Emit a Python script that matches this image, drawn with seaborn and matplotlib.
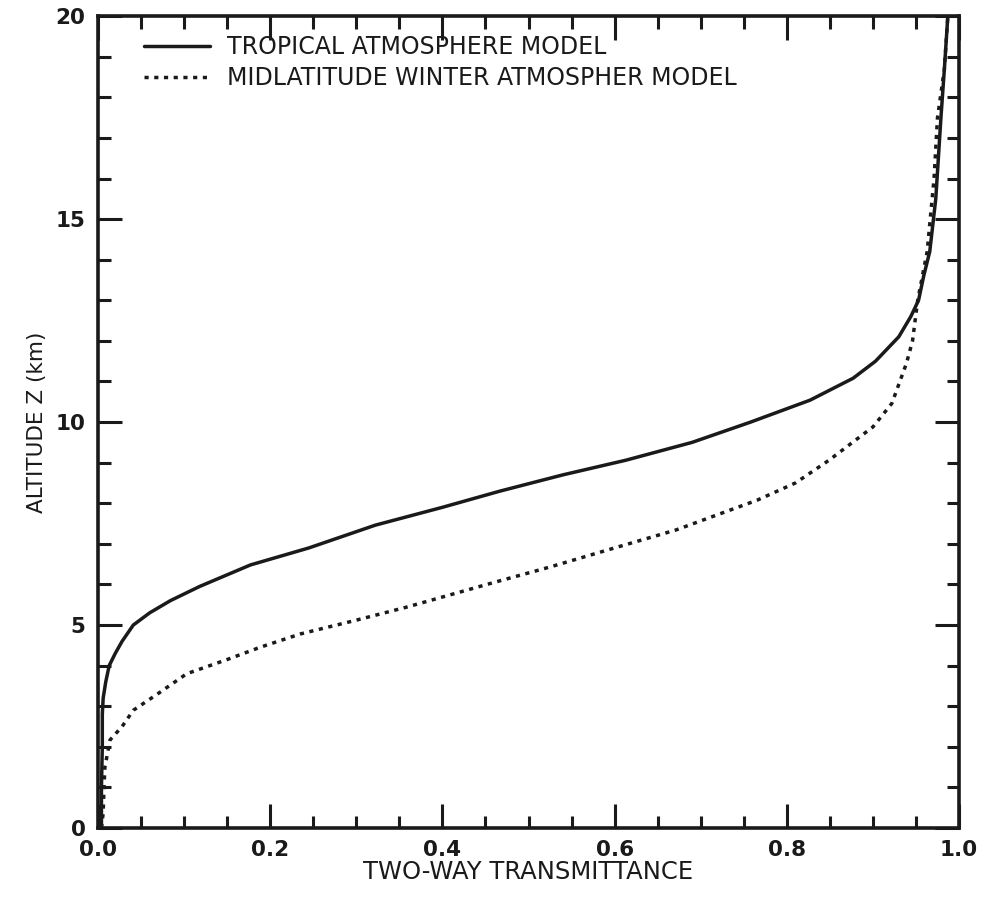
import numpy as np
import pandas as pd
import matplotlib
matplotlib.use("Agg")
import matplotlib.pyplot as plt
import seaborn as sns
from matplotlib.ticker import MultipleLocator, FormatStrFormatter

# Two-way transmittance profiles versus altitude (km)
tropical_altitude = [0.0, 1.0, 2.0, 2.8, 3.2, 3.6, 4.0, 4.3, 4.6, 5.0, 5.3, 5.6, 5.95,
                     6.48, 6.9, 7.46, 7.9, 8.3, 8.7, 9.06, 9.5, 10.0, 10.54, 11.08,
                     11.5, 12.1, 12.6, 13.0, 13.6, 14.2, 15.5, 17.5, 18.7, 20.0]
tropical_trans = [0.004, 0.004, 0.005, 0.005, 0.006, 0.009, 0.013, 0.020, 0.028, 0.041,
                  0.060, 0.084, 0.118, 0.177, 0.245, 0.322, 0.400, 0.467, 0.540, 0.613,
                  0.690, 0.758, 0.827, 0.877, 0.903, 0.930, 0.944, 0.953, 0.959, 0.966,
                  0.973, 0.979, 0.983, 0.987]

midlat_altitude = [0.0, 0.37, 1.0, 1.5, 2.17, 2.5, 2.9, 3.3, 3.8, 4.15, 4.45, 4.78, 5.12,
                   5.45, 5.69, 6.05, 6.43, 6.9, 7.34, 8.08, 8.5, 9.06, 9.88, 10.46,
                   11.45, 12.0, 13.0, 14.2, 15.1, 16.0, 17.5, 18.7, 20.0]
midlat_trans = [0.004, 0.006, 0.007, 0.008, 0.014, 0.028, 0.041, 0.069, 0.103, 0.150,
                0.188, 0.235, 0.300, 0.360, 0.400, 0.460, 0.525, 0.600, 0.671, 0.766,
                0.810, 0.849, 0.900, 0.922, 0.939, 0.946, 0.952, 0.963, 0.967, 0.971,
                0.975, 0.983, 0.987]

labels = ["TROPICAL ATMOSPHERE MODEL", "MIDLATITUDE WINTER ATMOSPHER MODEL"]

df = pd.concat([
    pd.DataFrame({"T": tropical_trans, "Z": tropical_altitude, "model": labels[0]}),
    pd.DataFrame({"T": midlat_trans, "Z": midlat_altitude, "model": labels[1]}),
], ignore_index=True)

ink = "#1a1a1a"

sns.set_theme(style="white")
plt.rcParams["font.family"] = ["DejaVu Sans"]

fig = plt.figure(figsize=(9.83, 8.99), dpi=100)
ax = fig.add_axes([0.0997, 0.079, 0.8759, 0.903])

sns.lineplot(data=df, x="T", y="Z", hue="model", style="model",
             palette={labels[0]: ink, labels[1]: ink},
             dashes={labels[0]: "", labels[1]: (1.2, 1.6)},
             sort=False, estimator=None, linewidth=2.5, ax=ax)

ax.set_xlim(0, 1.0)
ax.set_ylim(0, 20)
ax.xaxis.set_major_locator(MultipleLocator(0.2))
ax.xaxis.set_minor_locator(MultipleLocator(0.05))
ax.yaxis.set_major_locator(MultipleLocator(5))
ax.yaxis.set_minor_locator(MultipleLocator(1))
ax.xaxis.set_major_formatter(FormatStrFormatter("%.1f"))
ax.yaxis.set_major_formatter(FormatStrFormatter("%d"))

ax.tick_params(which="both", direction="in", top=True, right=True,
               bottom=True, left=True, color=ink, width=2.2)
ax.tick_params(which="major", length=17, labelsize=15.5, pad=9, labelcolor=ink)
ax.tick_params(which="minor", length=9)
for lab in ax.get_xticklabels() + ax.get_yticklabels():
    lab.set_fontweight("bold")

for sp in ax.spines.values():
    sp.set_linewidth(2.6)
    sp.set_color(ink)
    sp.set_visible(True)

ax.set_xlabel("TWO-WAY TRANSMITTANCE", fontsize=17.5, color=ink, labelpad=0)
ax.set_ylabel("ALTITUDE Z (km)", fontsize=15.5, color=ink, labelpad=6)

handles, _ = ax.get_legend_handles_labels()
ax.legend(handles=handles[-2:], labels=labels,
          loc="upper left", bbox_to_anchor=(0.042, 0.988), frameon=False,
          fontsize=17, handlelength=2.8, handletextpad=0.75, labelspacing=0.3,
          borderaxespad=0.0, labelcolor=ink)

fig.savefig("out.png", dpi=100, facecolor="white")
